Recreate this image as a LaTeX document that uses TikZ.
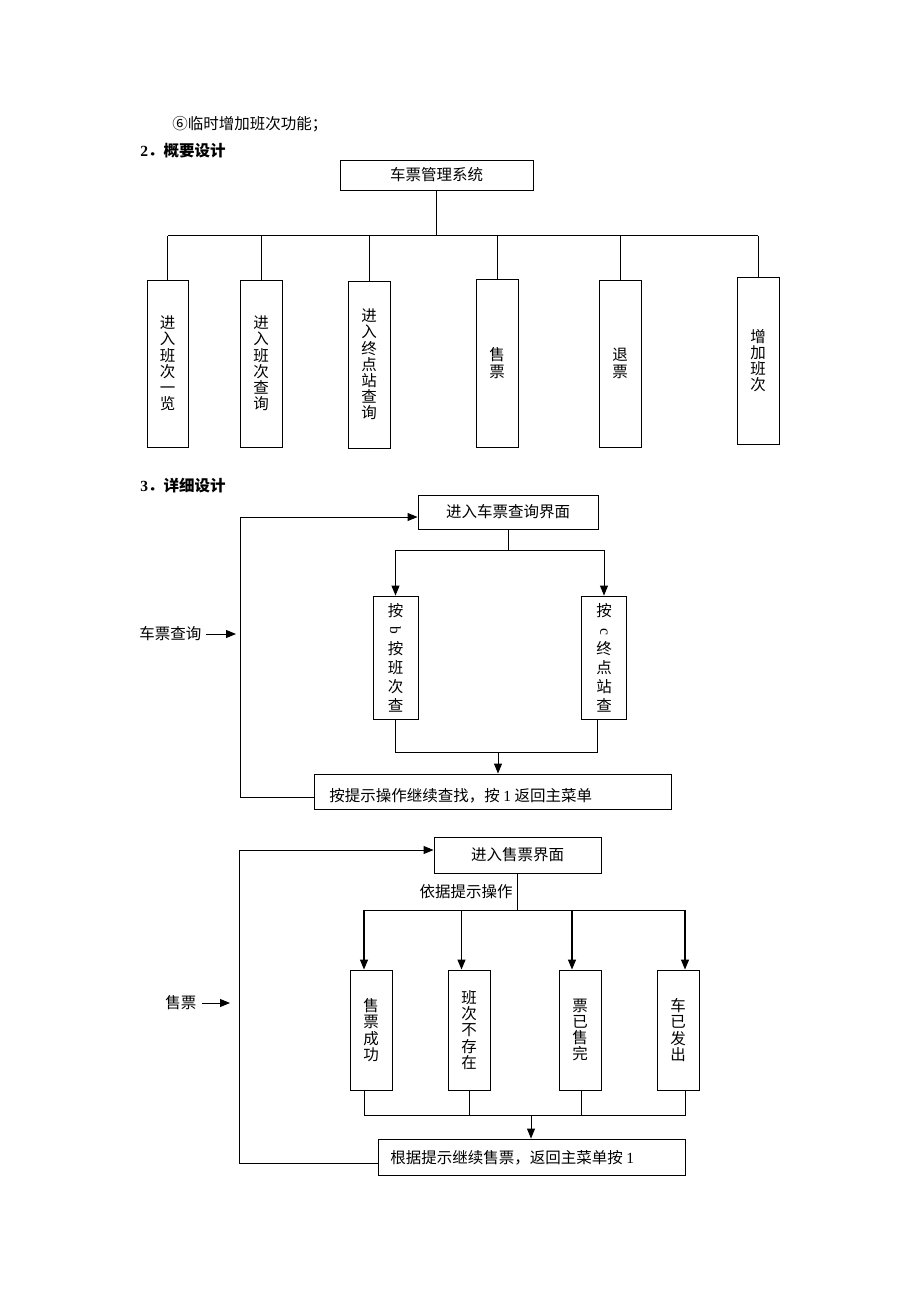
\documentclass[tikz,border=0pt]{standalone}
\usepackage{fontspec}
\usepackage{graphicx}
\setmainfont{Liberation Serif}
\newfontfamily\cjk{Noto Sans CJK SC}
\usetikzlibrary{arrows.meta}
\newcommand{\rotlat}[1]{\rotatebox[origin=c]{-90}{\rmfamily #1}}
\begin{document}
\begin{tikzpicture}[x=1pt,y=-1pt,line width=0.9pt,
  box/.style={draw,inner sep=0pt,font=\cjk\fontsize{15.5}{18}\selectfont},
  vbox/.style={box,align=center,font=\cjk\fontsize{15.5}{16.2}\selectfont},
  vboxw/.style={box,align=center,font=\cjk\fontsize{15.5}{19}\selectfont},
  arr/.style={-{Triangle[length=10pt,width=8pt]}},
  lbl/.style={inner sep=0pt,font=\cjk\fontsize{15.5}{18}\selectfont},
  head/.style={inner sep=0pt,font=\cjk\bfseries\fontsize{15.5}{18}\selectfont}]
\useasboundingbox[fill=white] (0,0) rectangle (920,1302);

% ---------- headings ----------
\node[lbl,anchor=west] (t6) at (172,124) {⑥临时增加班次功能；};
\node[head,anchor=west] (h2) at (140,151) {{\rmfamily\bfseries 2}．概要设计};
\node[head,anchor=west] (h3) at (140,486) {{\rmfamily\bfseries 3}．详细设计};

% ---------- section 2 ----------
\node[box,minimum width=193pt,minimum height=30pt] (sys) at (436.5,175) {车票管理系统};
\coordinate (busL) at (167.5,235.5);
\coordinate (busR) at (758,235.5);
\draw (sys.south) -- (sys.south |- busL);
\draw (busL) -- (busR);

\node[vbox,minimum width=41pt,minimum height=167pt] (b1) at (167.5,363.5) {进\\入\\班\\次\\一\\览};
\node[vbox,minimum width=42pt,minimum height=167pt] (b2) at (261,363.5) {进\\入\\班\\次\\查\\询};
\node[vbox,minimum width=42pt,minimum height=167pt] (b3) at (369,364.5) {进\\入\\终\\点\\站\\查\\询};
\node[vbox,minimum width=42pt,minimum height=168pt] (b4) at (497,363) {售\\票};
\node[vbox,minimum width=42pt,minimum height=167pt] (b5) at (620,363.5) {退\\票};
\node[vbox,minimum width=42pt,minimum height=167pt] (b6) at (758,360.5) {增\\加\\班\\次};
\foreach \b in {b1,b2,b3,b4,b5,b6} {\draw (\b.north) -- (\b.north |- busL);}

% ---------- section 3: query ----------
\node[box,minimum width=180pt,minimum height=34pt] (q0) at (508,512) {进入车票查询界面};
\node[vboxw,minimum width=45pt,minimum height=123pt] (qb) at (395.5,657.5) {按\\\rotlat{b}\\按\\班\\次\\查};
\node[vboxw,minimum width=45pt,minimum height=123pt] (qc) at (604,657.5) {按\\\rotlat{c}\\终\\点\\站\\查};
\node[box,minimum width=357pt,minimum height=35pt] (q1) at (492.5,791.5) {};
\node[lbl,anchor=west] (q1t) at (329,796) {按提示操作继续查找，按 {\rmfamily 1} 返回主菜单};

\coordinate (qsplit) at (508,550);
\draw (q0.south) -- (qsplit);
\draw (qb.north |- qsplit) -- (qc.north |- qsplit);
\draw[arr] (qb.north |- qsplit) -- (qb.north);
\draw[arr] (qc.north |- qsplit) -- (qc.north);

\coordinate (qm) at (498,752);
\coordinate (qcs) at ([xshift=-7pt]qc.south);
\draw (qb.south) -- (qb.south |- qm) -- (qcs |- qm) -- (qcs);
\draw[arr] (qm) -- (qm |- q1.north);

\coordinate (qloopB) at (240,797);
\coordinate (qloopT) at (240,517);
\draw[arr] ([yshift=-5.5pt]q1.west) -- (qloopB) -- (qloopT) -- (qloopT -| q0.west);

\node[lbl,anchor=west] (lq) at (139,634) {车票查询};
\coordinate (lqa) at (236,634);
\draw[arr] ([xshift=4pt]lq.east) -- (lqa);

% ---------- section 3: sale ----------
\node[box,minimum width=167pt,minimum height=36pt] (s0) at (517.5,855) {进入售票界面};
\node[lbl] (sop) at (466,892) {依据提示操作};
\coordinate (ssplit) at (517.5,910);
\draw (s0.south) -- (ssplit);

\node[vbox,minimum width=42pt,minimum height=120pt] (s1) at (371,1030) {售\\票\\成\\功};
\node[vbox,minimum width=42pt,minimum height=120pt] (s2) at (469,1030) {班\\次\\不\\存\\在};
\node[vbox,minimum width=42pt,minimum height=120pt] (s3) at (580,1030) {票\\已\\售\\完};
\node[vbox,minimum width=42pt,minimum height=120pt] (s4) at (678,1030) {车\\已\\发\\出};

\coordinate (sa1) at ([xshift=-7pt]s1.north);
\coordinate (sa2) at ([xshift=-7.5pt]s2.north);
\coordinate (sa3) at ([xshift=-8pt]s3.north);
\coordinate (sa4) at ([xshift=7pt]s4.north);
\draw (sa1 |- ssplit) -- (sa4 |- ssplit);
\foreach \a in {sa1,sa2,sa3,sa4} {\draw[arr,line width=1.2pt] (\a |- ssplit) -- (\a);}

\coordinate (sm) at (531,1115);
\coordinate (sd1) at ([xshift=-7pt]s1.south);
\coordinate (sd2) at (s2.south);
\coordinate (sd3) at ([xshift=1.5pt]s3.south);
\coordinate (sd4) at ([xshift=7pt]s4.south);
\draw (sd1) -- (sd1 |- sm) -- (sd4 |- sm) -- (sd4);
\draw (sd2) -- (sd2 |- sm);
\draw (sd3) -- (sd3 |- sm);

\node[box,minimum width=307pt,minimum height=36pt] (s5) at (531.5,1157) {};
\node[lbl,anchor=west] (s5t) at (390,1158) {根据提示继续售票，返回主菜单按 {\rmfamily 1}};
\draw[arr] (sm) -- (sm |- s5.north);

\coordinate (slB) at (239,1163);
\coordinate (slT) at (239,850);
\draw[arr] ([yshift=-6pt]s5.west) -- (slB) -- (slT) -- (slT -| s0.west);

\node[lbl,anchor=west] (ls) at (165,1003) {售票};
\coordinate (lsa) at (230,1003);
\draw[arr] ([xshift=5pt]ls.east) -- (lsa);
\end{tikzpicture}
\end{document}
